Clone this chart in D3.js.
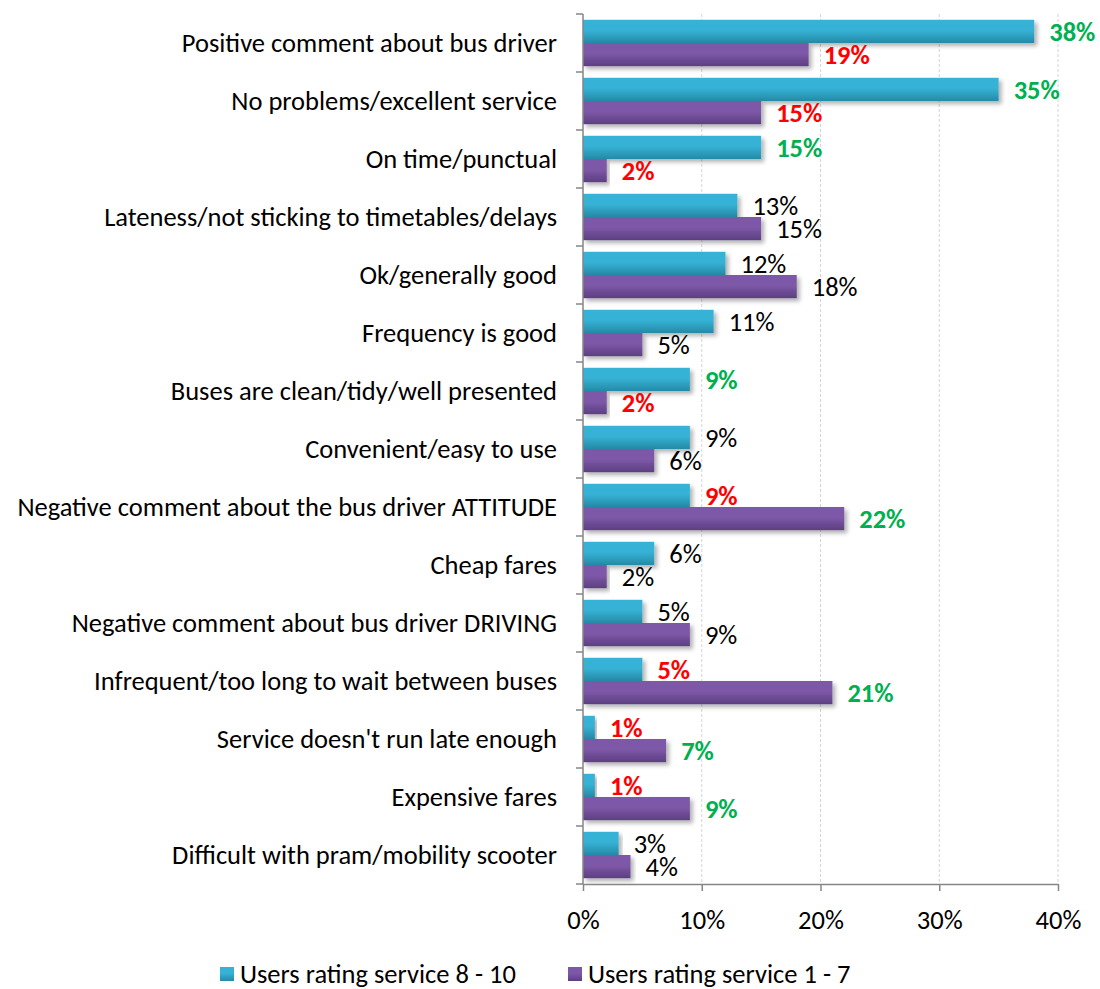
<!DOCTYPE html>
<html>
<head>
<meta charset="utf-8">
<script src="https://cdn.jsdelivr.net/npm/d3@7"></script>
<style>
  html, body { margin: 0; padding: 0; background: #fff; }
  svg { display: block; font-family: Carlito, Calibri, Lato, sans-serif; }
</style>
</head>
<body>
<svg id="chart" width="1100" height="989"></svg>
<script>
// Comment categories, top to bottom
const categories = [
  "Positive comment about bus driver",
  "No problems/excellent service",
  "On time/punctual",
  "Lateness/not sticking to timetables/delays",
  "Ok/generally good",
  "Frequency is good",
  "Buses are clean/tidy/well presented",
  "Convenient/easy to use",
  "Negative comment about the bus driver ATTITUDE",
  "Cheap fares",
  "Negative comment about bus driver DRIVING",
  "Infrequent/too long to wait between buses",
  "Service doesn't run late enough",
  "Expensive fares",
  "Difficult with pram/mobility scooter"
];

const seriesNames = ["Users rating service 8 - 10", "Users rating service 1 - 7"];

// Share of users (%) mentioning each comment
const highRaters = [38, 35, 15, 13, 12, 11, 9, 9, 9, 6, 5, 5, 1, 1, 3];
const lowRaters  = [19, 15, 2, 15, 18, 5, 2, 6, 22, 2, 9, 21, 7, 9, 4];

// Significance flag per label: "hi" = notably higher, "lo" = notably lower, "" = no difference
const highFlags = ["hi","hi","hi","","","","hi","","lo","","","lo","lo","lo",""];
const lowFlags  = ["lo","lo","lo","","","","lo","","hi","","","hi","hi","hi",""];

const xTicks = [0, 10, 20, 30, 40];

const FONT = "Carlito, Calibri, Lato, sans-serif";
const FS = 26.5;

const svg = d3.select("#chart");
const margin = { left: 583, top: 14 };
const plotW = 475, plotH = 870;

const defs = svg.append("defs");
function grad(id, top, bottom) {
  const g = defs.append("linearGradient").attr("id", id)
    .attr("x1", 0).attr("y1", 0).attr("x2", 0).attr("y2", 1);
  g.append("stop").attr("offset", "0%").attr("stop-color", top);
  g.append("stop").attr("offset", "45%").attr("stop-color", top);
  g.append("stop").attr("offset", "100%").attr("stop-color", bottom);
}
grad("gTeal", "#35b2d6", "#258aa5");
grad("gPurple", "#7e58a8", "#5c3f80");
const f = defs.append("filter").attr("id", "shadow")
  .attr("x", "-5%").attr("y", "-20%").attr("width", "115%").attr("height", "160%");
f.append("feDropShadow").attr("dx", 3).attr("dy", 3).attr("stdDeviation", 2)
  .attr("flood-color", "#000").attr("flood-opacity", 0.3);

const x = d3.scaleLinear().domain([0, 40]).range([0, plotW]);
const y = d3.scaleBand().domain(categories).range([0, plotH])
  .paddingInner(0.2).paddingOuter(0.1);
const ySub = d3.scaleBand().domain([0, 1]).range([0, y.bandwidth()]);

const g = svg.append("g").attr("transform", `translate(${margin.left},${margin.top})`);

// vertical gridlines
g.append("g").selectAll("line").data(xTicks.slice(1)).join("line")
  .attr("x1", d => x(d)).attr("x2", d => x(d))
  .attr("y1", 0).attr("y2", plotH)
  .attr("stroke", "#d4d4d4").attr("stroke-width", 1)
  .attr("stroke-dasharray", "3,2");

const colors = ["url(#gTeal)", "url(#gPurple)"];
const values = [highRaters, lowRaters];
const flags = [highFlags, lowFlags];

const bars = [];
categories.forEach((c, i) => {
  [0, 1].forEach(s => bars.push({ c, s, v: values[s][i], flag: flags[s][i] }));
});

g.append("g").selectAll("rect").data(bars).join("rect")
  .attr("x", 0)
  .attr("y", d => y(d.c) + ySub(d.s))
  .attr("width", d => x(d.v))
  .attr("height", ySub.bandwidth())
  .attr("fill", d => colors[d.s])
  .attr("filter", "url(#shadow)");

// value labels
const flagColor = { hi: "#00b050", lo: "#ff0000", "": "#000" };
g.append("g").selectAll("text").data(bars).join("text")
  .attr("x", d => x(d.v) + 15)
  .attr("y", d => y(d.c) + ySub(d.s) + ySub.bandwidth() / 2)
  .attr("dy", "0.35em")
  .attr("font-size", FS)
  .attr("font-weight", d => d.flag ? "bold" : "normal")
  .attr("fill", d => flagColor[d.flag])
  .text(d => d.v + "%");

// y axis with band-boundary ticks
const yAxis = g.append("g");
yAxis.append("line").attr("x1", 0).attr("x2", 0).attr("y1", 0).attr("y2", plotH)
  .attr("stroke", "#868686").attr("stroke-width", 1.5);
const bounds = d3.range(categories.length + 1).map(i => i * y.step());
yAxis.selectAll(".tk").data(bounds).join("line").attr("class", "tk")
  .attr("x1", -7).attr("x2", 0).attr("y1", d => d).attr("y2", d => d)
  .attr("stroke", "#868686").attr("stroke-width", 1.5);
yAxis.selectAll("text").data(categories).join("text")
  .attr("x", -26)
  .attr("y", d => y(d) + y.bandwidth() / 2)
  .attr("dy", "0.35em")
  .attr("text-anchor", "end")
  .attr("font-size", FS)
  .attr("fill", "#000")
  .text(d => d);

// x axis
const xAxis = g.append("g").attr("transform", `translate(0,${plotH})`)
  .call(d3.axisBottom(x).tickValues(xTicks).tickFormat(d => d + "%").tickSize(7).tickSizeOuter(0));
xAxis.select(".domain").attr("stroke", "#868686").attr("stroke-width", 1.5);
xAxis.selectAll(".tick line").attr("stroke", "#868686").attr("stroke-width", 1.5);
xAxis.selectAll(".tick text")
  .attr("font-family", FONT)
  .attr("font-size", FS).attr("fill", "#000")
  .attr("y", 36).attr("dy", "0.35em");

// legend
const legend = svg.append("g").attr("transform", "translate(220,974)");
const legX = [0, 348];
seriesNames.forEach((n, s) => {
  const lg = legend.append("g").attr("transform", `translate(${legX[s]},0)`);
  lg.append("rect").attr("x", 0).attr("y", -7).attr("width", 14).attr("height", 14)
    .attr("fill", colors[s]);
  lg.append("text").attr("x", 20).attr("y", 0).attr("dy", "0.35em")
    .attr("font-size", FS).attr("fill", "#000").text(n);
});
</script>
</body>
</html>
